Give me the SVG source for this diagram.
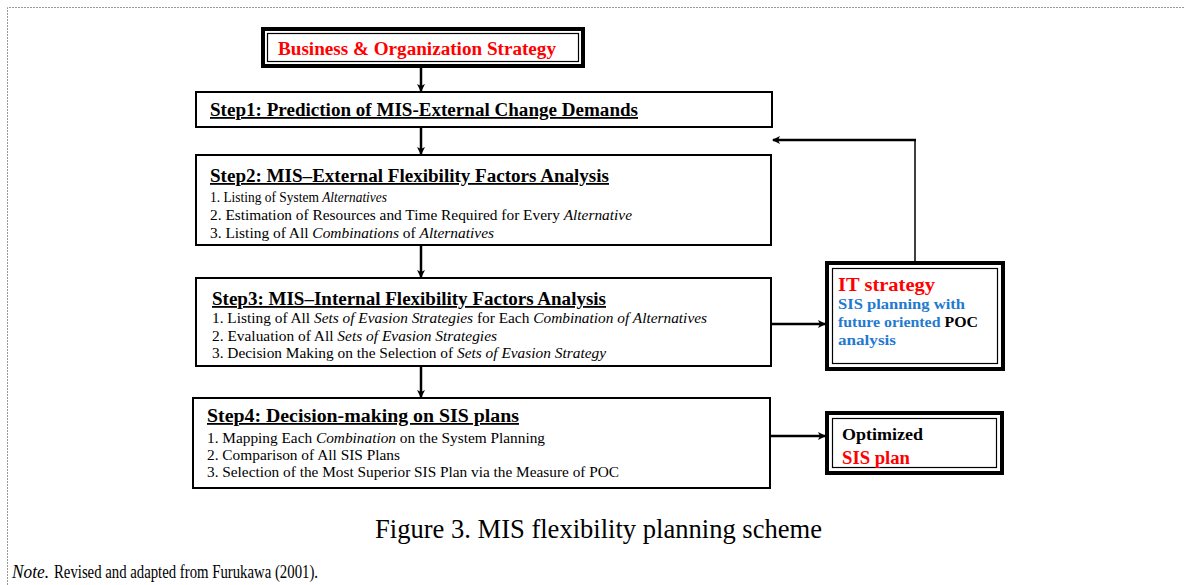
<svg xmlns="http://www.w3.org/2000/svg" width="1184" height="585" viewBox="0 0 1184 585" font-family="'Liberation Serif', 'Times New Roman', serif">
<style>
.box{fill:#fff;stroke:#000;stroke-width:2}
.outer{fill:#fff;stroke:#000;stroke-width:4}
.inner{fill:none;stroke:#000;stroke-width:1.2}
text{font-family:'Liberation Serif','Times New Roman',serif}
.title{font-size:18px;font-weight:bold;text-decoration:underline;fill:#000}
.item{font-size:14px;fill:#000}
.hv{font-weight:bold}
.conn{stroke:#000;stroke-width:2.5;fill:none}
</style>
<defs>
<marker id="ah" markerWidth="8" markerHeight="8" refX="7" refY="4" orient="auto" markerUnits="userSpaceOnUse">
<path d="M0,0 L8,4 L0,8 L2,4 Z" fill="#000"/>
</marker>
</defs>
<rect width="1184" height="585" fill="#fff"/>
<path d="M7.5,585 V7.5 H1184" fill="none" stroke="#999" stroke-width="1" stroke-dasharray="2,1"/>

<g id="connectors">
<line class="conn" x1="421" y1="67" x2="421" y2="91" marker-end="url(#ah)"/>
<line class="conn" x1="421" y1="127" x2="421" y2="154" marker-end="url(#ah)"/>
<line class="conn" x1="421" y1="245" x2="421" y2="277" marker-end="url(#ah)"/>
<line class="conn" x1="421" y1="366" x2="421" y2="397" marker-end="url(#ah)"/>
<line class="conn" x1="771" y1="324" x2="825" y2="324" marker-end="url(#ah)"/>
<line class="conn" x1="770" y1="436" x2="825" y2="436" marker-end="url(#ah)"/>
<path d="M915,262 V140" fill="none" stroke="#000" stroke-width="1.5"/>
<path d="M916,140 H773" class="conn" stroke-width="2" marker-end="url(#ah)"/>
</g>

<g id="business">
<rect class="outer" x="263" y="29" width="320" height="37"/>
<rect class="inner" x="267.5" y="33.5" width="311" height="28"/>
<text class="hv" x="278" y="55" font-size="18" fill="#f00" textLength="278" lengthAdjust="spacingAndGlyphs">Business &amp; Organization Strategy</text>
</g>

<g id="step1">
<rect class="box" x="196" y="92" width="576" height="35"/>
<text class="title" x="210" y="116" textLength="428" lengthAdjust="spacingAndGlyphs">Step1: Prediction of MIS-External Change Demands</text>
</g>

<g id="step2">
<rect class="box" x="196" y="155" width="575" height="90"/>
<text class="title" x="210" y="182" textLength="399" lengthAdjust="spacingAndGlyphs">Step2: MIS–External Flexibility Factors Analysis</text>
<text class="item" x="210" y="202" textLength="177" lengthAdjust="spacingAndGlyphs">1. Listing of System <tspan font-style="italic">Alternatives</tspan></text>
<text class="item" x="210" y="220" textLength="422" lengthAdjust="spacingAndGlyphs">2. Estimation of Resources and Time Required for Every <tspan font-style="italic">Alternative</tspan></text>
<text class="item" x="210" y="238" textLength="284" lengthAdjust="spacingAndGlyphs">3. Listing of All <tspan font-style="italic">Combinations</tspan> of <tspan font-style="italic">Alternatives</tspan></text>
</g>

<g id="step3">
<rect class="box" x="196" y="278" width="575" height="88"/>
<text class="title" x="212" y="305" textLength="394" lengthAdjust="spacingAndGlyphs">Step3: MIS–Internal Flexibility Factors Analysis</text>
<text class="item" x="212" y="323" textLength="495" lengthAdjust="spacingAndGlyphs">1. Listing of All <tspan font-style="italic">Sets of Evasion Strategies</tspan> for Each <tspan font-style="italic">Combination of Alternatives</tspan></text>
<text class="item" x="212" y="341" textLength="285" lengthAdjust="spacingAndGlyphs">2. Evaluation of All <tspan font-style="italic">Sets of Evasion Strategies</tspan></text>
<text class="item" x="212" y="358" textLength="394" lengthAdjust="spacingAndGlyphs">3. Decision Making on the Selection of <tspan font-style="italic">Sets of Evasion Strategy</tspan></text>
</g>

<g id="step4">
<rect class="box" x="193" y="398" width="577" height="90"/>
<text class="title" x="207" y="422" textLength="312" lengthAdjust="spacingAndGlyphs">Step4: Decision-making on SIS plans</text>
<text class="item" x="207" y="443" textLength="338" lengthAdjust="spacingAndGlyphs">1. Mapping Each <tspan font-style="italic">Combination</tspan> on the System Planning</text>
<text class="item" x="207" y="460" textLength="193" lengthAdjust="spacingAndGlyphs">2. Comparison of All SIS Plans</text>
<text class="item" x="207" y="477" textLength="412" lengthAdjust="spacingAndGlyphs">3. Selection of the Most Superior SIS Plan via the Measure of POC</text>
</g>

<g id="it-strategy">
<rect class="outer" x="827" y="263" width="176" height="106"/>
<rect class="inner" x="832.5" y="268.5" width="165" height="95"/>
<text class="hv" x="838" y="291" font-size="18" fill="#f00" textLength="97" lengthAdjust="spacingAndGlyphs">IT strategy</text>
<text class="hv" x="838" y="309" font-size="15" fill="#1f7ad0" textLength="127" lengthAdjust="spacingAndGlyphs">SIS planning with</text>
<text class="hv" x="838" y="327" font-size="15" fill="#1f7ad0" textLength="140" lengthAdjust="spacingAndGlyphs">future oriented <tspan fill="#000">POC</tspan></text>
<text class="hv" x="838" y="345" font-size="15" fill="#1f7ad0" textLength="58" lengthAdjust="spacingAndGlyphs">analysis</text>
</g>

<g id="optimized">
<rect class="outer" x="827" y="413" width="175" height="60"/>
<rect class="inner" x="832.5" y="418.5" width="164" height="49"/>
<text class="hv" x="842" y="440" font-size="17" fill="#000" textLength="81" lengthAdjust="spacingAndGlyphs">Optimized</text>
<text class="hv" x="842" y="464" font-size="18" fill="#f00" textLength="68" lengthAdjust="spacingAndGlyphs">SIS plan</text>
</g>

<g id="caption">
<text x="375" y="538" font-size="27" fill="#000" textLength="447" lengthAdjust="spacingAndGlyphs">Figure 3. MIS flexibility planning scheme</text>
<text x="12" y="578" font-size="19" font-style="italic" fill="#000" textLength="37" lengthAdjust="spacingAndGlyphs">Note.</text>
<text x="54" y="578" font-size="19" fill="#000" textLength="264" lengthAdjust="spacingAndGlyphs">Revised and adapted from Furukawa (2001).</text>
</g>
</svg>
